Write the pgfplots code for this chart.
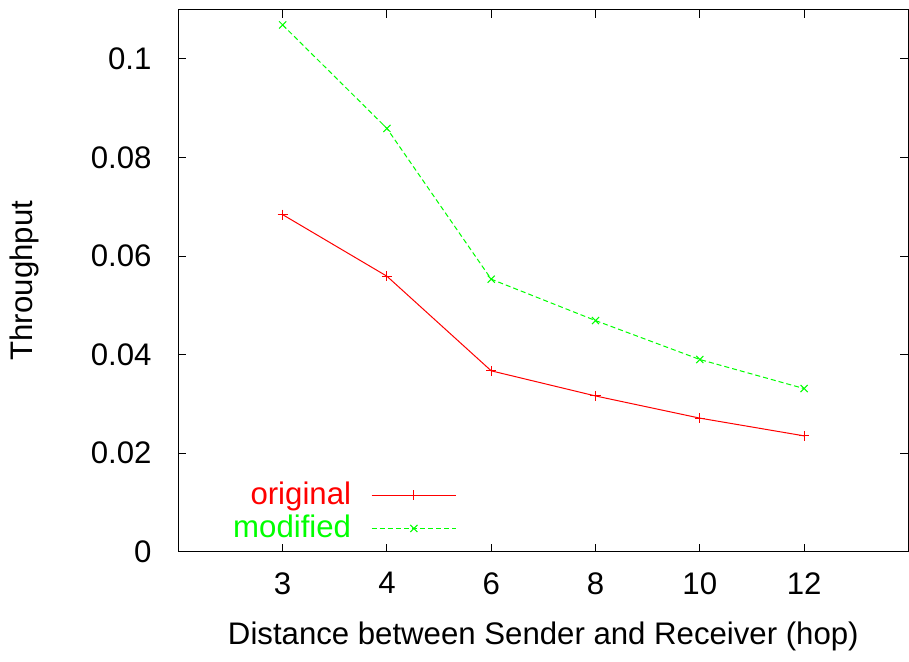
\documentclass[border={0pt 0pt 0pt 4.5pt}]{standalone}
\usepackage{fontspec}
\setmainfont{Liberation Sans}
\usepackage{pgfplots}
\pgfplotsset{compat=1.18}

\definecolor{gpred}{RGB}{255,0,0}
\definecolor{gpgreen}{RGB}{0,255,0}

\begin{document}
\fontsize{15.5}{18}\selectfont
\begin{tikzpicture}
\begin{axis}[
  scale only axis,
  width=363pt, height=269.5pt,
  xmin=0, xmax=7,
  ymin=0, ymax=0.11,
  xtick={1,2,3,4,5,6},
  xticklabels={3,4,6,8,10,12},
  ytick={0,0.02,0.04,0.06,0.08,0.1},
  yticklabel style={/pgf/number format/fixed, /pgf/number format/precision=2},
  /pgf/number format/assume math mode=true,
  tick align=inside,
  major tick length=4pt,
  tick style={black, line width=0.5pt},
  axis line style={black, line width=0.6pt},
  xlabel={\textcolor{black}{Distance between Sender and Receiver (hop)}},
  ylabel={\textcolor{black}{Throughput}},
  xticklabel style={yshift=-5pt},
  yticklabel style={xshift=-8pt},
  xlabel style={yshift=-3pt},
  ylabel style={yshift=15pt},
  legend style={draw=none, fill=none, at={(0.39,0.145)}, anchor=north east,
    legend plot pos=right, legend cell align=right, row sep=-1pt,
    nodes={inner sep=2pt}},
]
\addplot[color=gpred, line width=0.5pt, mark=+, mark size=2.5pt,
  legend image code/.code={\path (0pt,0pt);
    \draw[color=gpred, mark repeat=2, mark phase=2, mark options={color=gpred}]
    plot coordinates {(8pt,0pt)(29pt,0pt)(50pt,0pt)};}]
  coordinates {(1,0.0684)(2,0.0559)(3,0.0367)(4,0.0316)(5,0.0271)(6,0.0235)};
\addlegendentry{\textcolor{gpred}{original}}
\addplot[color=gpgreen, line width=0.5pt, dash pattern=on 2.5pt off 1.5pt, mark=x, mark size=2.5pt, mark options={solid},
  legend image code/.code={\path (0pt,0pt);
    \draw[color=gpgreen, mark repeat=2, mark phase=2, mark options={solid, color=gpgreen}]
    plot coordinates {(8pt,0pt)(29pt,0pt)(50pt,0pt)};}]
  coordinates {(1,0.1069)(2,0.0859)(3,0.0553)(4,0.0469)(5,0.0390)(6,0.0331)};
\addlegendentry{\textcolor{gpgreen}{modified}}
\end{axis}
\end{tikzpicture}
\end{document}
